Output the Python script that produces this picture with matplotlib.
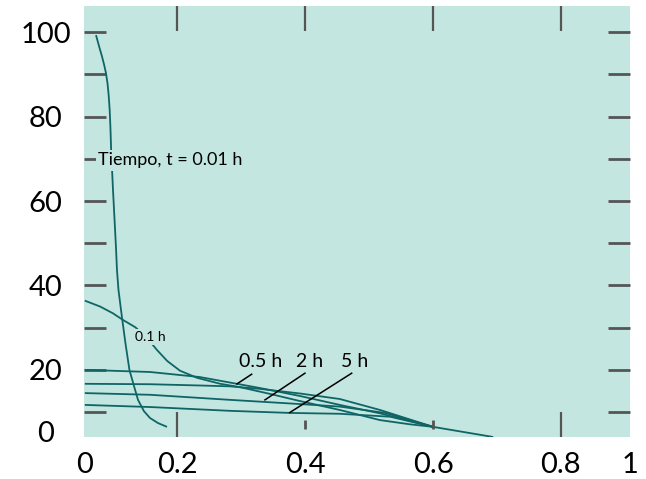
import matplotlib
matplotlib.use("Agg")
import matplotlib.pyplot as plt

# Curve data (x = distance, y = concentration).
t001_x = [0.0725, 0.0756, 0.0787, 0.0818, 0.0850, 0.0881, 0.0905, 0.0923,
          0.0939, 0.0951, 0.0962, 0.0991, 0.1038, 0.1053, 0.1077, 0.1124,
          0.1185, 0.1248, 0.1319, 0.1382, 0.1476, 0.1570, 0.1695, 0.1836]
t001_y = [99.3, 97.6, 95.9, 94.3, 92.4, 90.3, 87.9, 85.1,
          81.6, 77.3, 72.1, 62.6, 48.9, 43.7, 38.9, 33.3,
          26.4, 20.0, 16.2, 12.9, 10.2, 8.6, 7.4, 6.5]

t01_x = [0.055, 0.079, 0.099, 0.115, 0.134, 0.151, 0.168, 0.184, 0.204, 0.231,
         0.267, 0.298, 0.345, 0.392, 0.454, 0.517, 0.564, 0.600]
t01_y = [36.4, 35.0, 33.4, 31.8, 30.1, 27.8, 24.7, 22.1, 19.8, 18.1,
         16.7, 15.9, 14.3, 12.6, 10.5, 8.1, 7.1, 6.5]

t05_x = [0.055, 0.157, 0.235, 0.282, 0.329, 0.392, 0.454, 0.517, 0.600, 0.694]
t05_y = [20.0, 19.5, 18.3, 17.0, 15.7, 13.8, 11.7, 9.7, 6.5, 4.1]

t1_x = [0.055, 0.157, 0.235, 0.282, 0.329, 0.392, 0.454, 0.517, 0.600]
t1_y = [16.7, 16.6, 16.3, 16.1, 15.5, 14.4, 13.1, 10.5, 6.5]

t2_x = [0.055, 0.157, 0.282, 0.392, 0.454, 0.525, 0.600]
t2_y = [14.5, 14.1, 12.9, 11.9, 11.3, 9.8, 6.5]

t5_x = [0.055, 0.157, 0.282, 0.376, 0.454, 0.533, 0.600]
t5_y = [11.7, 11.2, 10.3, 9.8, 9.6, 8.9, 6.5]

curves = [(t001_x, t001_y), (t01_x, t01_y), (t05_x, t05_y),
          (t1_x, t1_y), (t2_x, t2_y), (t5_x, t5_y)]

x_tick_labels = ["0", "0.2", "0.4", "0.6", "0.8", "1"]
y_tick_labels = ["100", "80", "60", "40", "20", "0"]

BG = "#c4e6e0"
LINE = "#0f6566"
TICK = "#555555"
FONT = "Lato"


def main():
    fig = plt.figure(figsize=(6.46, 4.79), dpi=100)
    ax = fig.add_axes([0.1308, 0.0877, 0.8449, 0.8998])
    ax.set_facecolor(BG)
    for s in ax.spines.values():
        s.set_visible(False)

    x0, x1 = 0.0545, 0.9086
    y0, y1 = 4.1, 106.2
    ax.set_xlim(x0, x1)
    ax.set_ylim(y0, y1)

    for cx, cy in curves:
        ax.plot(cx, cy, color=LINE, lw=1.3, solid_capstyle="butt",
                solid_joinstyle="round")

    # Labels (the bbox hides the curve behind the text)
    box = dict(facecolor=BG, edgecolor="none", pad=1.5)
    ax.text(0.0757, 69.6, "Tiempo, t = 0.01 h", fontsize=13, family=FONT,
            ha="left", va="center", bbox=box)
    ax.text(0.1577, 27.7, "0.1 h", fontsize=10, family=FONT,
            ha="center", va="center", bbox=box)

    leaders = [("0.5 h", (0.2931, 16.67), (0.3307, 21.9), (0.3161, 18.97)),
               ("2 h", (0.3369, 12.89), (0.4074, 21.9), (0.3995, 19.21)),
               ("5 h", (0.3756, 9.88), (0.4767, 21.9), (0.4726, 19.21))]
    for txt, tip, pos, start in leaders:
        ax.text(pos[0], pos[1], txt, fontsize=14, family=FONT,
                ha="center", va="center")
        ax.plot([start[0], tip[0]], [start[1], tip[1]], color="black", lw=1.1)

    # axis labels: 0 and 1 sit at the edges of the panel
    ax.set_xticks([x0, 0.2, 0.4, 0.6, 0.8, x1], x_tick_labels)
    ax.set_yticks([100, 80, 60, 40, 20, 5.3], y_tick_labels)
    ax.tick_params(axis="x", length=0, pad=11, labelsize=21)
    ax.tick_params(axis="y", length=0, pad=28, labelsize=21)
    for lab in ax.get_yticklabels():
        lab.set_horizontalalignment("center")
    for lab in ax.get_xticklabels() + ax.get_yticklabels():
        lab.set_family(FONT)

    # inward tick marks (minor ticks, kept even where they hit a label)
    ax.xaxis.remove_overlapping_locs = False
    ax.yaxis.remove_overlapping_locs = False
    ax.set_xticks([0.2, 0.4, 0.6, 0.8], minor=True)
    ax.set_yticks(range(10, 101, 10), minor=True)
    ax.tick_params(axis="x", which="minor", direction="in", top=True,
                   bottom=False, length=18, width=1.6, color=TICK)
    ax.tick_params(axis="y", which="minor", direction="in", left=True,
                   right=True, length=16, width=2.0, color=TICK)
    trans = ax.get_xaxis_transform()
    ax.vlines([0.2, 0.8], 0, 0.058, transform=trans, color=TICK, lw=1.6)
    ax.vlines([0.4, 0.6], 0.019, 0.039, transform=trans, color=TICK, lw=2.0)

    fig.savefig("out.png", dpi=100)


if "__main__" == __name__:
    main()
